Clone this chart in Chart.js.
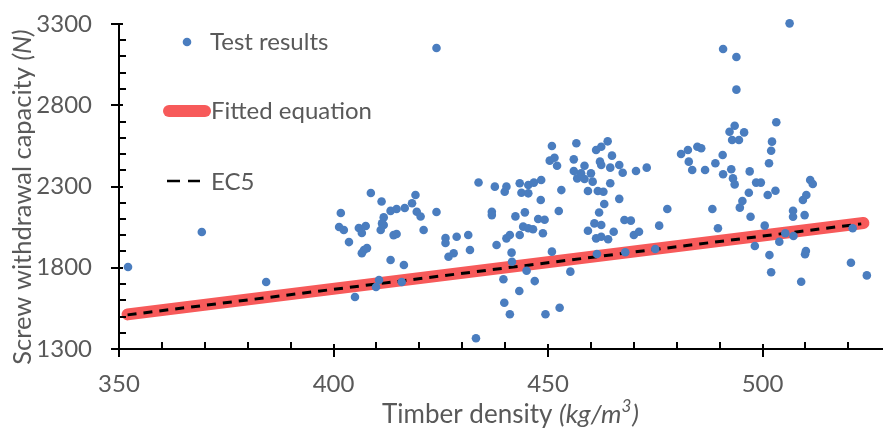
<!DOCTYPE html>
<html>
<head>
<meta charset="utf-8">
<script src="https://cdn.jsdelivr.net/npm/chart.js@4.4.0/dist/chart.umd.min.js"></script>
<style>
  html, body { margin: 0; padding: 0; background: #fff; }
  #wrap { width: 887px; height: 435px; position: relative; }
</style>
</head>
<body>
<div id="wrap"><canvas id="c"></canvas></div>
<script>
// ---- data ----
var testDensity = [
  352.1, 369.3, 384.3, 424.0,
  401.7, 401.3, 402.4, 403.6, 405.0, 405.9, 406.6, 407.5, 406.6, 407.1, 407.8, 408.7, 409.9, 410.6, 411.0, 411.7,
  411.2, 411.7, 411.3, 413.3, 414.0, 414.7, 413.3, 414.7, 416.6, 415.9, 416.4, 418.3, 419.1, 419.4, 420.3, 421.0,
  424.0, 426.1, 426.1, 426.8, 428.0, 428.7, 431.4, 431.8, 433.2, 433.8,
  436.9, 436.9, 437.6, 438.0, 439.6, 439.8, 439.9, 440.3, 440.3, 441.1, 441.1, 441.5, 441.6, 442.4, 443.3, 443.4,
  443.4, 443.8, 444.2, 444.6, 445.0, 445.4, 445.4, 445.4, 446.5, 446.7, 446.9, 447.7, 448.3, 448.4, 448.8, 449.2,
  449.4, 450.4, 450.9, 450.9, 451.5, 452.1, 452.5, 452.7, 453.1, 455.2,
  456.0, 456.0, 456.6, 456.8, 457.7, 458.5, 458.5, 459.3, 459.3, 460.0, 460.4, 460.8, 461.2, 461.2, 461.4, 461.6,
  461.9, 462.1, 462.4, 462.4, 462.4, 462.4, 462.9, 463.1, 463.9, 464.0, 464.5, 464.5, 464.9, 465.3, 466.6, 466.6,
  467.4, 467.8, 469.3, 468.0, 470.0, 470.5, 471.2, 473.0, 475.0, 475.9, 477.8,
  481.0, 482.6, 482.8, 483.6, 484.8, 485.7, 486.6, 488.3, 489.0, 489.6, 490.7, 490.8, 490.8, 492.3, 492.7, 492.9,
  493.1, 493.5, 493.5, 493.9, 493.9, 494.5, 494.7, 495.3, 495.7, 496.8, 497.0, 497.2, 498.2, 498.5, 499.6, 500.5,
  501.2, 501.5, 501.6, 502.0, 502.0, 502.2, 503.0, 503.2, 503.9, 505.3, 506.3, 507.1, 507.1, 507.2, 509.0, 509.4,
  509.8, 509.9, 510.1, 510.2, 511.1, 511.7, 520.6, 521.0, 524.3
];
var testCapacity = [
  1805, 2020, 1712, 3152,
  2137, 2051, 2032, 1958, 1620, 2045, 2014, 2057, 1890, 1909, 1921, 2260, 1682, 1725, 2032, 2063,
  2208, 2110, 2073, 1848, 2001, 2008, 2150, 2162, 2168, 1712, 1817, 2197, 2248, 2145, 2115, 2032,
  2143, 1983, 1952, 1868, 1889, 1991, 2002, 1909, 1366, 2325,
  2145, 2124, 2299, 1940, 1729, 1585, 2268, 2299, 1981, 2002, 1514, 1893, 1837, 2116, 1657, 2320,
  2002, 2262, 2053, 2141, 1782, 2309, 2258, 2043, 2037, 2324, 1718, 2100, 2217, 2340, 2012, 2095,
  1514, 2459, 2549, 1899, 2477, 2428, 2149, 1554, 2278, 1776,
  2467, 2395, 2566, 2350, 2381, 2428, 2346, 2272, 2028, 2381, 2330, 2073, 2525, 1981, 1885, 2272,
  2140, 2453, 2545, 2432, 2063, 1991, 2268, 2192, 2578, 1975, 2416, 2320, 2490, 2022, 2432, 2224,
  2385, 2094, 2090, 1895, 2002, 2395, 2022, 2416, 1915, 2059, 2162,
  2500, 2525, 2453, 2402, 2545, 2535, 2402, 2162, 2443, 2043, 2494, 3146, 2375, 2637, 2406, 2586,
  2350, 2674, 2313, 3097, 2896, 2586, 2170, 2211, 2633, 2262, 2393, 2114, 1934, 2324, 2324, 2059,
  2248, 2443, 1878, 2520, 1772, 2576, 2274, 2695, 1960, 2012, 3304, 2151, 2114, 1995, 1714, 2217,
  2124, 1883, 1903, 2248, 2340, 2315, 1831, 2043, 1753
];
var fittedDensity = [352, 523.5];
var fittedCapacity = [1513, 2075];
var ec5Density = [352, 523];
var ec5Capacity = [1510, 2070];
var xTicks = [350, 400, 450, 500];
var yTicks = [1300, 1800, 2300, 2800, 3300];

var GREY = '#595959';
var BLUE = '#4a7dbf';
var RED = '#f75a5a';
var FONT = 'Lato, "Open Sans", sans-serif';

function pts(xs, ys) {
  return xs.map(function (x, i) { return { x: x, y: ys[i] }; });
}

// minor/major tick marks the way the reference draws them
var tickMarks = {
  id: 'tickMarks',
  afterDraw: function (chart) {
    var c = chart.ctx, x = chart.scales.x, y = chart.scales.y;
    var ax = x.getPixelForValue(350), ay = y.getPixelForValue(1300);
    c.save();
    c.strokeStyle = '#000';
    c.lineWidth = 2;
    c.beginPath();
    for (var v = 350; v <= x.max; v += 10) {
      var px = Math.round(x.getPixelForValue(v));
      if (v % 50 === 0) { c.moveTo(px, ay - 5); c.lineTo(px, ay + 8); }
      else { c.moveTo(px, ay - 7); c.lineTo(px, ay); }
    }
    for (var w = 1300; w <= 3300; w += 100) {
      var py = Math.round(y.getPixelForValue(w));
      if (w % 500 === 300) { c.moveTo(ax - 8, py); c.lineTo(ax + 4, py); }
      else { c.moveTo(ax, py); c.lineTo(ax + 7, py); }
    }
    c.stroke();
    c.restore();
  }
};

// legend inside the plot and axis titles with italic units
var labels = {
  id: 'labels',
  afterDraw: function (chart) {
    var c = chart.ctx;
    c.save();
    c.fillStyle = GREY;
    c.textBaseline = 'middle';
    c.font = '24px ' + FONT;

    c.beginPath(); c.fillStyle = BLUE; c.arc(187, 42, 4.3, 0, Math.PI * 2); c.fill();
    c.fillStyle = GREY; c.fillText('Test results', 210, 42);

    c.strokeStyle = RED; c.lineWidth = 12; c.lineCap = 'round';
    c.beginPath(); c.moveTo(169, 111); c.lineTo(205, 111); c.stroke();
    c.fillText('Fitted equation', 211, 111);

    c.strokeStyle = '#000'; c.lineWidth = 2.5; c.lineCap = 'butt';
    c.beginPath(); c.moveTo(167, 181); c.lineTo(180, 181); c.moveTo(188, 181); c.lineTo(200, 181); c.stroke();
    c.fillText('EC5', 211, 182);

    // x title
    var a = 'Timber density ', b = '(kg/m', s = '3', d = ')';
    c.font = '26px ' + FONT; var wa = c.measureText(a).width;
    c.font = 'italic 26px ' + FONT; var wb = c.measureText(b).width, wd = c.measureText(d).width;
    c.font = 'italic 17px ' + FONT; var ws = c.measureText(s).width;
    var x0 = 510 - (wa + wb + ws + wd) / 2, yy = 415;
    c.font = '26px ' + FONT; c.fillText(a, x0, yy);
    c.font = 'italic 26px ' + FONT; c.fillText(b, x0 + wa, yy);
    c.font = 'italic 17px ' + FONT; c.fillText(s, x0 + wa + wb, yy - 8);
    c.font = 'italic 26px ' + FONT; c.fillText(d, x0 + wa + wb + ws + 1, yy);

    // y title
    c.translate(23, 197);
    c.rotate(-Math.PI / 2);
    var t1 = 'Screw withdrawal capacity ', t2 = '(N)';
    c.font = '25.5px ' + FONT; var w1 = c.measureText(t1).width;
    c.font = 'italic 25.5px ' + FONT; var w2 = c.measureText(t2).width;
    c.font = '25.5px ' + FONT; c.fillText(t1, -(w1 + w2) / 2, 0);
    c.font = 'italic 25.5px ' + FONT; c.fillText(t2, -(w1 + w2) / 2 + w1, 0);
    c.restore();
  }
};

function plain(v) { return String(v); }

new Chart(document.getElementById('c'), {
  type: 'scatter',
  data: {
    datasets: [
      { label: 'Test results', data: pts(testDensity, testCapacity), backgroundColor: BLUE, borderWidth: 0,
        pointRadius: 4.3, pointHoverRadius: 4.3, clip: false, order: 0 },
      { type: 'line', label: 'EC5', data: pts(ec5Density, ec5Capacity), borderColor: '#000', borderWidth: 3,
        borderDash: [9, 7], pointRadius: 0, fill: false, order: 1 },
      { type: 'line', label: 'Fitted equation', data: pts(fittedDensity, fittedCapacity), borderColor: RED,
        borderWidth: 12, borderCapStyle: 'round', pointRadius: 0, fill: false, order: 2, clip: false }
    ]
  },
  options: {
    responsive: true,
    maintainAspectRatio: false,
    animation: false,
    layout: { padding: { top: 24, right: 0, left: 0, bottom: 0 } },
    plugins: { legend: { display: false }, tooltip: { enabled: false } },
    scales: {
      x: {
        type: 'linear', min: 350, max: 528,
        afterBuildTicks: function (s) { s.ticks = xTicks.map(function (v) { return { value: v }; }); },
        afterFit: function (s) { s.height = 86; s.paddingLeft = 0; s.paddingRight = 0; },
        grid: { display: false, drawTicks: false },
        border: { display: true, color: '#000', width: 2 },
        ticks: { color: GREY, font: { family: FONT, size: 24 }, padding: 21, maxRotation: 0, callback: plain }
      },
      y: {
        type: 'linear', min: 1300, max: 3300,
        afterBuildTicks: function (s) { s.ticks = yTicks.map(function (v) { return { value: v }; }); },
        afterFit: function (s) { s.width = 119; s.paddingTop = 0; s.paddingBottom = 0; },
        grid: { display: false, drawTicks: false },
        border: { display: true, color: '#000', width: 2 },
        ticks: { color: GREY, font: { family: FONT, size: 24 }, padding: 27, callback: plain }
      }
    }
  },
  plugins: [tickMarks, labels]
});
</script>
</body>
</html>
